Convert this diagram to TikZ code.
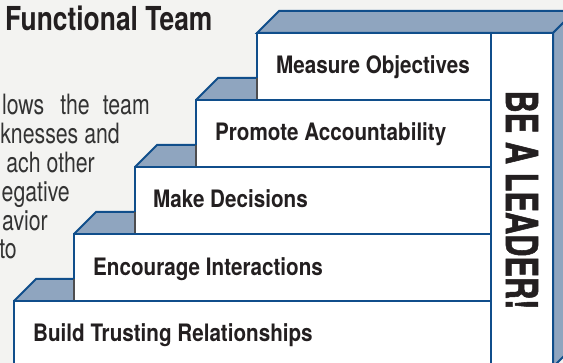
\documentclass[tikz,border=0pt]{standalone}
\usepackage{fontspec}
\usepackage{tikz}
\setmainfont{TeX Gyre Heros}
\newfontfamily\condfont[FakeStretch=0.86]{TeX Gyre Heros}
\newfontfamily\headfont[FakeStretch=0.80]{TeX Gyre Heros}
\newfontfamily\bodyfont[FakeStretch=0.76]{TeX Gyre Heros}
\newfontfamily\blackfont[FakeStretch=0.70,FakeBold=1.2]{TeX Gyre Heros}
\definecolor{LDBack}{HTML}{F3F3F1}
\definecolor{LDBlue}{HTML}{104E8B}
\definecolor{LDFace}{HTML}{8FA5BF}
\definecolor{LDSeam}{HTML}{4D4D4F}
\definecolor{LDText}{HTML}{231F20}
\definecolor{LDBody}{HTML}{333333}
\tikzset{
  edge/.style={draw=LDBlue,line width=2pt,line join=miter},
  face/.style={fill=LDFace},
  seam/.style={draw=LDSeam,line width=1.6pt},
  steplabel/.style={anchor=base west,inner sep=0pt,text=LDText,
    font=\condfont\bfseries\fontsize{24}{24}\selectfont},
  bodyline/.style={anchor=base east,inner sep=0pt,text=LDBody,
    font=\bodyfont\fontsize{28}{28}\selectfont}
}

\begin{document}
\begin{tikzpicture}[x=1pt,y=-1pt]
\path[use as bounding box] (0,0) rectangle (563,363);
\clip (0,0) rectangle (563,363);
\fill[LDBack] (0,0) rectangle (563,363);
% heading and the running text at the left
\node[anchor=base west,inner sep=0pt,text=LDText,font=\headfont\bfseries\fontsize{33}{33}\selectfont] (title) at (5,30.5) {Functional Team};
\node[bodyline] (body1) at (150,115) {lows\hspace{16pt}the\hspace{13pt}team};
\node[bodyline] (body2) at (120,143.8) {knesses and};
\node[bodyline] (body3) at (95,172.6) {ach other};
\node[bodyline] (body4) at (70,201.4) {egative};
\node[bodyline] (body5) at (48,230.2) {avior};
\node[bodyline] (body6) at (17,259) {to};
% top bar and right side of the column
\path[face,edge] (257,33) -- (279,11) -- (575,11) -- (553,33) -- cycle;
\path[face,edge] (553,33) -- (575,11) -- (575,345) -- (553,367) -- cycle;
% treads of the lower steps
\fill[LDFace] (196,100) -- (218,78) -- (257,78) -- (257,100) -- cycle;
\draw[edge] (196,100) -- (218,78) -- (257,78);
\fill[LDFace] (135,167) -- (157,145) -- (196,145) -- (196,167) -- cycle;
\draw[edge] (135,167) -- (157,145) -- (196,145);
\fill[LDFace] (74,234) -- (96,212) -- (135,212) -- (135,234) -- cycle;
\draw[edge] (74,234) -- (96,212) -- (135,212);
\fill[LDFace] (14,301) -- (36,279) -- (74,279) -- (74,301) -- cycle;
\draw[edge] (14,301) -- (36,279) -- (74,279);
% step fronts
\filldraw[fill=white,edge] (257,33) rectangle (491,100);
\filldraw[fill=white,edge] (196,100) rectangle (491,167);
\filldraw[fill=white,edge] (135,167) rectangle (491,234);
\filldraw[fill=white,edge] (74,234) rectangle (491,301);
\filldraw[fill=white,edge] (14,301) rectangle (491,367);
\draw[seam] (257,78) -- (257,99);
\draw[seam] (196,145) -- (196,166);
\draw[seam] (135,212) -- (135,233);
\draw[seam] (74,279) -- (74,300);
% column front
\filldraw[fill=white,edge] (491,33) rectangle (553,367);
\node[steplabel] (measure) at (276,74) {Measure Objectives};
\node[steplabel] (promote) at (215,141) {Promote Accountability};
\node[steplabel] (decide) at (153,208) {Make Decisions};
\node[steplabel] (interact) at (93,275.5) {Encourage Interactions};
\node[steplabel] (trust) at (33,342) {Build Trusting Relationships};
\node[rotate=-90,inner sep=0pt,text=LDText,font=\blackfont\bfseries\fontsize{44}{44}\selectfont] (leader) at (522,200) {BE A LEADER!};
\end{tikzpicture}
\end{document}
